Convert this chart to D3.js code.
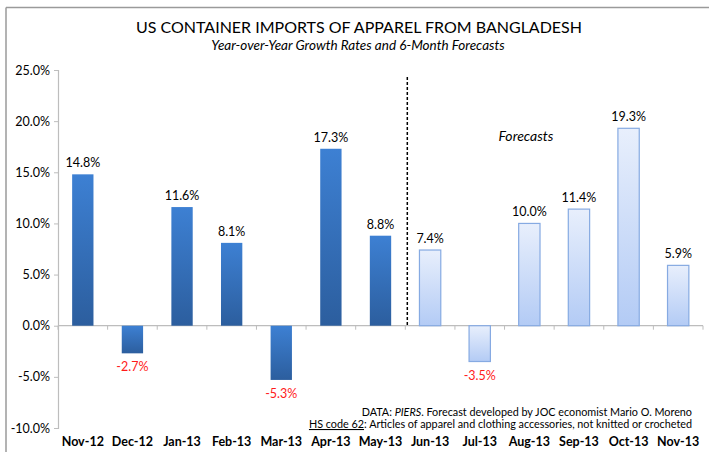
<!DOCTYPE html>
<html>
<head>
<meta charset="utf-8">
<script src="https://cdn.jsdelivr.net/npm/d3@7"></script>
<style>
  body { margin: 0; background: #fff; }
  svg text { font-family: Lato, "Open Sans", sans-serif; }
</style>
</head>
<body>
<svg id="chart" width="709" height="452"></svg>
<script>
// chart data
var months = ["Nov-12", "Dec-12", "Jan-13", "Feb-13", "Mar-13", "Apr-13", "May-13",
              "Jun-13", "Jul-13", "Aug-13", "Sep-13", "Oct-13", "Nov-13"];
var growth = [14.8, -2.7, 11.6, 8.1, -5.3, 17.3, 8.8, 7.4, -3.5, 10.0, 11.4, 19.3, 5.9];
var isForecast = [false, false, false, false, false, false, false, true, true, true, true, true, true];
var yTicks = [-10, -5, 0, 5, 10, 15, 20, 25];

// plain hyphen for negatives, like the original
var locale = d3.formatLocale({decimal: ".", thousands: ",", grouping: [3], currency: ["$", ""], minus: "-"});
var pct = function(d) { return locale.format(".1f")(d) + "%"; };

var svg = d3.select("#chart");

// frame (top and left edges only show in the picture)
svg.append("line").attr("x1", 6).attr("x2", 709).attr("y1", 7.5).attr("y2", 7.5)
  .attr("stroke", "#9a9a9a").attr("stroke-width", 1.5);
svg.append("line").attr("x1", 6).attr("x2", 6).attr("y1", 7.5).attr("y2", 452)
  .attr("stroke", "#9a9a9a").attr("stroke-width", 1.5);

// titles
svg.append("text").attr("x", 359).attr("y", 33).attr("text-anchor", "middle")
  .attr("font-size", 16).attr("fill", "#000")
  .text("US CONTAINER IMPORTS OF APPAREL FROM BANGLADESH");
svg.append("text").attr("x", 358).attr("y", 50).attr("text-anchor", "middle")
  .attr("font-size", 13.5).attr("font-style", "italic").attr("fill", "#000")
  .text("Year-over-Year Growth Rates and 6-Month Forecasts");

// scales
var x = d3.scaleBand().domain(months).range([58, 703]).padding(0);
var y = d3.scaleLinear().domain([-10, 25]).range([428, 70]);
var barW = x.bandwidth() * 0.43;

// gradients
var defs = svg.append("defs");
var gA = defs.append("linearGradient").attr("id", "gradActual")
  .attr("x1", 0).attr("y1", 0).attr("x2", 0).attr("y2", 1);
gA.append("stop").attr("offset", "0%").attr("stop-color", "#3d80d3");
gA.append("stop").attr("offset", "100%").attr("stop-color", "#2c5e9e");
var gF = defs.append("linearGradient").attr("id", "gradForecast")
  .attr("x1", 0).attr("y1", 0).attr("x2", 0).attr("y2", 1);
gF.append("stop").attr("offset", "0%").attr("stop-color", "#e8effc");
gF.append("stop").attr("offset", "100%").attr("stop-color", "#b3cbf5");

// y axis
var yAxis = svg.append("g").attr("transform", "translate(58,0)")
  .call(d3.axisLeft(y).tickValues(yTicks).tickSize(4).tickPadding(4).tickFormat(pct));
yAxis.select(".domain").attr("stroke", "#bdbdbd").attr("stroke-width", 1.2);
yAxis.selectAll(".tick line").attr("stroke", "#bdbdbd");
yAxis.selectAll(".tick text").attr("font-size", 12.5).attr("fill", "#000")
  .attr("font-family", "Lato, sans-serif");

// zero line with category ticks
svg.append("line").attr("x1", 58).attr("x2", 703).attr("y1", y(0)).attr("y2", y(0))
  .attr("stroke", "#bdbdbd").attr("stroke-width", 1.2);
svg.selectAll(".cat-tick").data(months.concat(["end"])).enter().append("line")
  .attr("class", "cat-tick")
  .attr("x1", function(d, i) { return 58 + i * x.step(); })
  .attr("x2", function(d, i) { return 58 + i * x.step(); })
  .attr("y1", y(0)).attr("y2", y(0) + 4)
  .attr("stroke", "#bdbdbd");

// month labels along the bottom
svg.selectAll(".month").data(months).enter().append("text")
  .attr("class", "month")
  .attr("x", function(d) { return x(d) + x.bandwidth() / 2; })
  .attr("y", 446).attr("text-anchor", "middle")
  .attr("font-size", 12.5).attr("font-weight", "bold").attr("fill", "#000")
  .text(function(d) { return d; });

// bars
svg.selectAll(".bar").data(growth).enter().append("rect")
  .attr("class", "bar")
  .attr("x", function(d, i) { return x(months[i]) + (x.bandwidth() - barW) / 2; })
  .attr("y", function(d) { return y(Math.max(0, d)); })
  .attr("width", barW)
  .attr("height", function(d) { return Math.abs(y(d) - y(0)); })
  .attr("fill", function(d, i) { return isForecast[i] ? "url(#gradForecast)" : "url(#gradActual)"; })
  .attr("stroke", function(d, i) { return isForecast[i] ? "#86aae2" : "none"; })
  .attr("stroke-width", 1.2);

// value labels
svg.selectAll(".val").data(growth).enter().append("text")
  .attr("class", "val")
  .attr("x", function(d, i) { return x(months[i]) + x.bandwidth() / 2; })
  .attr("y", function(d) { return d >= 0 ? y(d) - 7 : y(d) + 18; })
  .attr("text-anchor", "middle")
  .attr("font-size", 12.5)
  .attr("fill", function(d) { return d < 0 ? "#ff1a1a" : "#000"; })
  .text(pct);

// divider between actuals and forecasts
svg.append("line")
  .attr("x1", x("Jun-13") + 2).attr("x2", x("Jun-13") + 2)
  .attr("y1", 77).attr("y2", y(0))
  .attr("stroke", "#000").attr("stroke-width", 1.5).attr("stroke-dasharray", "3,2");

svg.append("text").attr("x", 526).attr("y", 141).attr("text-anchor", "middle")
  .attr("font-size", 14).attr("font-style", "italic").attr("fill", "#000")
  .text("Forecasts");

// source notes
var note1 = svg.append("text").attr("x", 692).attr("y", 416).attr("text-anchor", "end")
  .attr("font-size", 10.8).attr("fill", "#000");
note1.append("tspan").text("DATA: ");
note1.append("tspan").attr("font-style", "italic").text("PIERS");
note1.append("tspan").text(". Forecast developed by JOC economist Mario O. Moreno");

var note2 = svg.append("text").attr("x", 692).attr("y", 428).attr("text-anchor", "end")
  .attr("font-size", 10.8).attr("fill", "#000");
note2.append("tspan").attr("text-decoration", "underline").text("HS code 62");
note2.append("tspan").text(": Articles of apparel and clothing accessories, not knitted or crocheted");
</script>
</body>
</html>
